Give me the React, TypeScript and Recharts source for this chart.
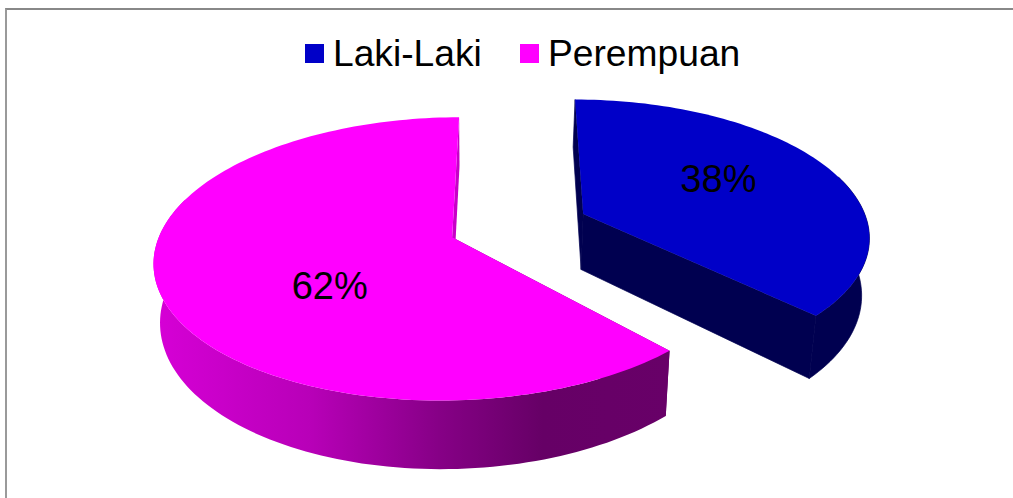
import React from "react";
import { PieChart, Pie, Legend } from "recharts";

const categories = ["Laki-Laki", "Perempuan"];
const shares = [38, 62];
const faceColors = ["#0000c8", "#ff00ff"];

const rows = categories.map((name, i) => ({ name, value: shares[i], fill: faceColors[i] }));

// 3D look: a perspective projection of the flat pie the library lays out
const explodeX = [65, 68];
const EXPLODE_Y = 26;
const PERSP = 0.15;
const SQUASH = 134.8 / 300;
const XSCALE = 0.985;
const RAD = Math.PI / 180;
const radialX = [0.965, 0.98];
const sweepWarp = [0.98, 0.998];

type P = [number, number];

function project(cx: number, cy: number, R: number, idx: number, r: number, deg: number): P {
  const sign = idx === 0 ? 1 : -1;
  const a = sign * explodeX[idx] + radialX[idx] * r * Math.cos(deg * RAD);
  const b = sign * EXPLODE_Y + r * Math.sin(deg * RAD);
  const w = 1 + (PERSP * b) / R;
  return [cx + (XSCALE * a) / w, cy - (SQUASH * b) / w];
}

// the underside of the disc
function drop([x, y]: P): P {
  return [480 + (x - 480) * 0.98, y + 55.5 + (y - 213) * 0.07];
}

const toPath = (pts: P[]) =>
  "M" + pts.map((p) => `${p[0].toFixed(2)},${p[1].toFixed(2)}`).join("L") + "Z";

function Slice3D(props: any) {
  const { cx, cy, outerRadius: R, startAngle, endAngle, index, fill } = props;
  const idx = index ?? categories.indexOf(props.name);
  const arc: P[] = [];
  const wallArc: P[] = [];
  const sweep = (endAngle - startAngle) * sweepWarp[idx];
  const n = Math.ceil(Math.abs(sweep) / 1.5);
  for (let i = 0; i <= n; i++) {
    const deg = startAngle + (sweep * i) / n;
    const p = project(cx, cy, R, idx, R, deg);
    arc.push(p);
    // only the front of the rim can show a wall
    if (Math.sin(deg * RAD) < 0.3) wallArc.push(p);
  }
  const tip = project(cx, cy, R, idx, 0, 0);
  const first = arc[0];
  const last = arc[arc.length - 1];
  const isBlue = idx === 0;
  const wallFill = isBlue ? "#000050" : "url(#pinkWall)";
  const seam = isBlue ? { stroke: "#000050", strokeWidth: 0.7 } : {};
  return (
    <g>
      <defs>
        <linearGradient id="pinkWall" gradientUnits="userSpaceOnUse" x1={155} y1={0} x2={672} y2={0}>
          <stop offset="0" stopColor="#d600d6" />
          <stop offset="0.3" stopColor="#b800b8" />
          <stop offset="0.55" stopColor="#860086" />
          <stop offset="0.75" stopColor="#660066" />
          <stop offset="1" stopColor="#680068" />
        </linearGradient>
      </defs>
      <path
        d={toPath([first, tip, drop(tip), drop(first)])}
        fill={isBlue ? "#000050" : "#660066"}
        {...seam}
      />
      <path d={toPath([last, tip, drop(tip), drop(last)])} fill={isBlue ? "#000050" : "#c800c8"} {...seam} />
      <path d={toPath([...wallArc, ...wallArc.map(drop).reverse()])} fill={wallFill} {...seam} />
      <path d={toPath([tip, ...arc])} fill={fill} />
    </g>
  );
}

const labelRadius = [174, 153];
const labelTurn = [7, 19.5];

function SliceLabel(props: any) {
  const { cx, cy, outerRadius: R, midAngle, index, value } = props;
  const [x, y] = project(cx, cy, R, index, labelRadius[index], midAngle + labelTurn[index]);
  return (
    <text
      x={x}
      y={y}
      textAnchor="middle"
      dominantBaseline="central"
      fontFamily="'Liberation Sans', Arial, sans-serif"
      fontSize={38}
      fill="#000000"
    >
      {value}%
    </text>
  );
}

function LegendRow({ payload }: any) {
  const lefts = [305, 520];
  return (
    <div style={{ position: "relative", width: 1013, height: 0 }}>
      {(payload || []).map((e: any, i: number) => (
        <React.Fragment key={e.value}>
          <div
            style={{
              position: "absolute",
              left: lefts[i],
              top: 44,
              width: 19,
              height: 19,
              background: e.color ?? faceColors[i],
            }}
          />
          <div
            style={{
              position: "absolute",
              left: lefts[i] + 28,
              top: 31,
              fontFamily: "'Liberation Sans', Arial, sans-serif",
              fontSize: 37.2,
              lineHeight: "44px",
              color: "#000",
              whiteSpace: "nowrap",
            }}
          >
            {e.value}
          </div>
        </React.Fragment>
      ))}
    </div>
  );
}

export default function App() {
  return (
    <div style={{ position: "absolute", left: 0, top: 0, width: 1013, height: 498, background: "#fff", overflow: "hidden" }}>
      <div
        style={{
          position: "absolute",
          left: 5,
          top: 8,
          width: 1008,
          height: 490,
          borderLeft: "2px solid #9a9a9a",
          borderTop: "2px solid #888888",
          boxSizing: "border-box",
        }}
      />
      <PieChart width={1013} height={498} margin={{ top: 0, right: 0, bottom: 0, left: 0 }} style={{ position: "absolute", left: 0, top: 0 }}>
        <Legend
          verticalAlign="top"
          align="left"
          content={<LegendRow />}
          wrapperStyle={{ left: 0, top: 0, width: 1013 }}
        />
        <Pie
          data={rows}
          dataKey="value"
          nameKey="name"
          cx={520}
          cy={225.5}
          outerRadius={300}
          startAngle={90}
          endAngle={-270}
          stroke="none"
          shape={<Slice3D />}
          label={<SliceLabel />}
          labelLine={false}
          isAnimationActive={false}
        />
      </PieChart>
    </div>
  );
}
